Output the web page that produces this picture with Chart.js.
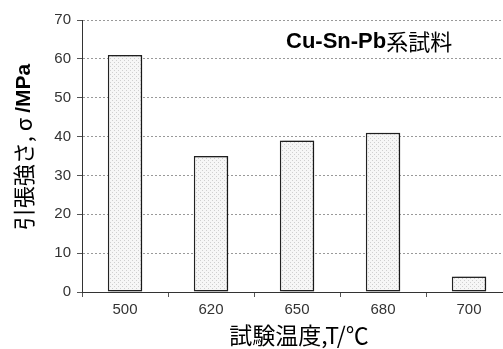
<!DOCTYPE html>
<html>
<head>
<meta charset="utf-8">
<script src="https://cdn.jsdelivr.net/npm/chart.js@4"></script>
<style>
  html, body { margin: 0; padding: 0; background: #fff; overflow: hidden; }
  #wrap { position: relative; width: 600px; height: 349px; }
</style>
</head>
<body>
<div id="wrap"><canvas id="myChart"></canvas></div>
<script>
// test temperatures (deg C) and tensile strength (MPa)
var temps = ['500', '620', '650', '680', '700'];
var strength = [61, 35, 39, 41, 4];
var yTicks = [0, 10, 20, 30, 40, 50, 60, 70];

// dotted fill like the original bars
var pc = document.createElement('canvas');
pc.width = 4; pc.height = 4;
var pctx = pc.getContext('2d');
pctx.fillStyle = '#f6f6f6';
pctx.fillRect(0, 0, 4, 4);
pctx.fillStyle = '#cfcfcf';
pctx.fillRect(0, 0, 1, 1);
pctx.fillRect(2, 2, 1, 1);
var ctx = document.getElementById('myChart').getContext('2d');
var dots = ctx.createPattern(pc, 'repeat');

var titles = {
  id: 'titles',
  beforeDatasetsDraw: function (chart) {
    var c = chart.ctx;
    c.save();
    c.shadowColor = 'rgba(0,0,0,0.3)';
    c.shadowOffsetX = 3;
    c.shadowOffsetY = 0;
    c.shadowBlur = 2;
  },
  afterDatasetsDraw: function (chart) {
    chart.ctx.restore();
  },
  afterDraw: function (chart) {
    var c = chart.ctx;
    c.save();
    c.fillStyle = '#000';
    c.textBaseline = 'middle';

    // y axis title, rotated, mixed weight
    c.translate(24, 147);
    c.rotate(-Math.PI / 2);
    var p1 = '引張強さ, σ ';
    var p2 = '/MPa';
    c.font = '22px "Noto Sans CJK JP"';
    var w1 = c.measureText(p1).width;
    c.font = 'bold 21px "Liberation Sans"';
    var w2 = c.measureText(p2).width;
    var x0 = -(w1 + w2) / 2;
    c.textAlign = 'left';
    c.font = '22px "Noto Sans CJK JP"';
    c.fillText(p1, x0, 0);
    c.font = 'bold 21px "Liberation Sans"';
    c.fillText(p2, x0 + w1, 0);
    c.restore();

    // x axis title
    c.save();
    c.fillStyle = '#000';
    c.textBaseline = 'middle';
    c.textAlign = 'center';
    c.font = '23px "Noto Sans CJK JP"';
    c.fillText('試験温度,T/℃', 299, 335);

    // sample label
    var q1 = 'Cu-Sn-Pb';
    var q2 = '系試料';
    c.textAlign = 'left';
    c.font = 'bold 22px "Liberation Sans"';
    var v1 = c.measureText(q1).width;
    c.fillText(q1, 286, 42);
    c.font = '22px "Noto Sans CJK JP"';
    c.fillText(q2, 286 + v1, 42);
    c.restore();
  }
};

var chart = new Chart(ctx, {
  type: 'bar',
  data: {
    labels: temps,
    datasets: [{
      data: strength,
      backgroundColor: dots,
      borderColor: '#222',
      borderWidth: 1.5,
      borderSkipped: false,
      categoryPercentage: 1,
      barPercentage: 0.4
    }]
  },
  options: {
    responsive: true,
    maintainAspectRatio: false,
    animation: false,
    layout: { padding: { left: 0, right: 88, top: 20, bottom: 0 } },
    plugins: { legend: { display: false }, tooltip: { enabled: false } },
    scales: {
      x: {
        grid: {
          offset: true,
          drawOnChartArea: false,
          tickLength: 5,
          tickColor: '#555',
          tickBorderDash: [1, 0]
        },
        border: { color: '#333', width: 1 },
        ticks: {
          color: '#333',
          font: { family: 'Liberation Sans', size: 15 },
          padding: 4
        },
        afterFit: function (s) { s.height = 57; }
      },
      y: {
        min: 0,
        max: 70,
        afterBuildTicks: function (s) {
          s.ticks = yTicks.map(function (v) { return { value: v }; });
        },
        grid: {
          color: '#999',
          tickLength: 5,
          tickColor: '#555',
          tickBorderDash: [1, 0]
        },
        border: { color: '#333', width: 1, dash: [2, 2] },
        ticks: {
          color: '#333',
          font: { family: 'Liberation Sans', size: 15 },
          padding: 6
        },
        afterFit: function (s) { s.width = 82; }
      }
    }
  },
  plugins: [titles]
});
</script>
</body>
</html>
